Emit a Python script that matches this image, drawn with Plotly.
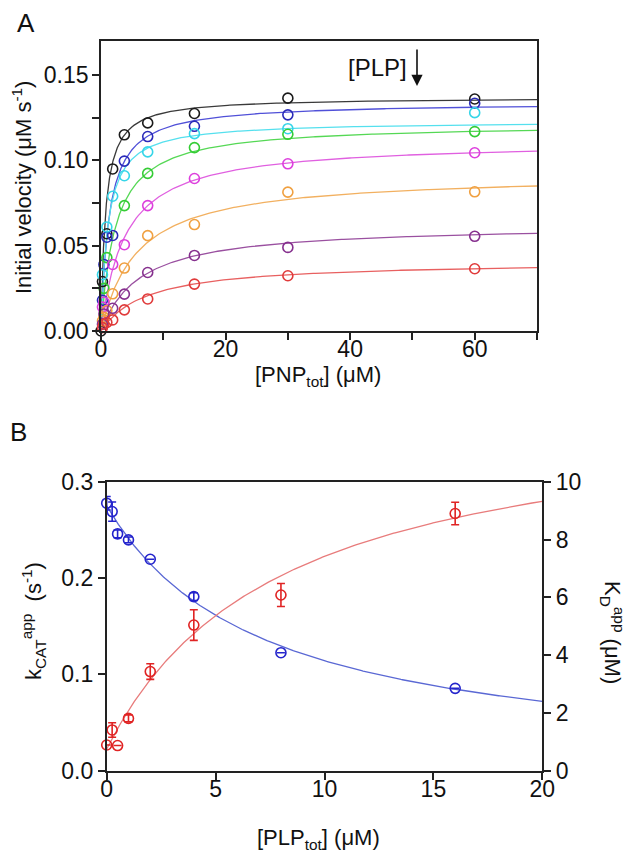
import numpy as np
import plotly.graph_objects as go

# ---------------- Panel A data ----------------
PNP_X = [0, 0.234, 0.469, 0.9375, 1.875, 3.75, 7.5, 15, 30, 60]
V_BLACK   = [0.000, 0.029, None, 0.057, 0.095, 0.115, 0.122, 0.1275, 0.1365, 0.136]
V_NAVY    = [None, 0.018, 0.039, 0.055, 0.056, 0.0996, 0.114, 0.120, 0.1267, 0.1335]
V_CYAN    = [None, 0.033, None, 0.061, 0.079, 0.091, 0.105, 0.1157, 0.1186, 0.128]
V_GREEN   = [None, None, 0.025, 0.043, None, 0.0735, 0.0924, 0.1075, 0.1153, 0.1169]
V_MAGENTA = [None, 0.014, 0.017, None, 0.039, 0.0506, 0.0735, 0.0894, 0.098, 0.1045]
V_ORANGE  = [None, 0.006, 0.008, 0.012, 0.0218, 0.0369, 0.0559, 0.0624, 0.0814, 0.0816]
V_PURPLE  = [None, 0.004, 0.010, None, 0.0133, 0.0216, 0.0343, 0.0443, 0.049, 0.0555]
V_RED     = [None, 0.002, 0.004, 0.005, 0.0065, 0.0124, 0.0188, 0.0275, 0.0324, 0.0365]

SERIES_A = [V_BLACK, V_NAVY, V_CYAN, V_GREEN, V_MAGENTA, V_ORANGE, V_PURPLE, V_RED]
# fitted hyperbola parameters (Vmax, K) for each series
FIT_VMAX = [0.137, 0.134, 0.123, 0.1215, 0.1112, 0.092, 0.0624, 0.041]
FIT_K    = [0.72, 1.3, 1.1, 2.3, 3.85, 5.76, 6.27, 7.3]
MARKER_COLORS_A = ["#1a1a1a", "#2a2ab8", "#35d5e8", "#35cc35", "#dd3fdd", "#f0a040", "#86308e", "#e03a3a"]
LINE_COLORS_A   = ["#3a3a3a", "#5050d8", "#55e0ee", "#55d855", "#e060e0", "#f2b060", "#9a50a0", "#e86060"]

# ---------------- Panel B data ----------------
PLP_X = [0, 0.25, 0.5, 1, 2, 4, 8, 16]
KCAT = [0.2777, 0.269, 0.2458, 0.2396, 0.2195, 0.1807, 0.1225, 0.0855]
KCAT_ERR = [0.007, 0.010, 0.004, 0.003, 0.0, 0.004, 0.0, 0.0]
KD = [0.89, 1.41, 0.87, 1.81, 3.43, 5.04, 6.08, 8.9]
KD_ERR = [0.0, 0.25, 0.0, 0.12, 0.27, 0.53, 0.40, 0.39]
KCAT_FIT = (0.275, 7.1)          # k0, K  : k0/(1+x/K)
KD_FIT = (0.75, 12.0, 8.0)       # c, A, K : c + A x/(K+x)

FONT = "Liberation Sans, Arial, sans-serif"
# page is 633x854; the html body has an 8 px margin, so the figure is offset by 8 px
OFF = 8
W, H = 633 - OFF, 854 - OFF


def px(p):
    return (p - OFF) / W


def py(p):
    return 1 - (p - OFF) / H


fig = go.Figure()

xc = np.concatenate([np.linspace(0, 5, 200), np.linspace(5, 70, 200)])
for vm, k, lc in zip(FIT_VMAX, FIT_K, LINE_COLORS_A):
    fig.add_trace(go.Scatter(x=xc, y=vm * xc / (k + xc), mode="lines",
                             line=dict(color=lc, width=1.3), xaxis="x", yaxis="y",
                             showlegend=False, hoverinfo="skip"))
for vals, mc in zip(SERIES_A, MARKER_COLORS_A):
    fig.add_trace(go.Scatter(x=PNP_X, y=vals, mode="markers",
                             marker=dict(symbol="circle-open", size=10, color=mc, line=dict(width=1.6, color=mc)),
                             xaxis="x", yaxis="y", showlegend=False, cliponaxis=False))

# Panel B
xb = np.linspace(0, 20, 300)
k0, kk = KCAT_FIT
fig.add_trace(go.Scatter(x=xb, y=k0 / (1 + xb / kk), mode="lines", line=dict(color="#5a68d4", width=1.3),
                         xaxis="x2", yaxis="y2", showlegend=False))
c, a, kd = KD_FIT
fig.add_trace(go.Scatter(x=xb, y=c + a * xb / (kd + xb), mode="lines", line=dict(color="#e87c7c", width=1.3),
                         xaxis="x2", yaxis="y3", showlegend=False))
fig.add_trace(go.Scatter(x=PLP_X, y=KCAT, mode="markers",
                         marker=dict(symbol="circle-open", size=10, color="#2424cc", line=dict(width=1.6, color="#2424cc")),
                         error_y=dict(type="data", array=KCAT_ERR, color="#2424cc", thickness=1.6, width=4),
                         xaxis="x2", yaxis="y2", showlegend=False, cliponaxis=False))
fig.add_trace(go.Scatter(x=PLP_X, y=KD, mode="markers",
                         marker=dict(symbol="circle-open", size=10, color="#e02424", line=dict(width=1.6, color="#e02424")),
                         error_y=dict(type="data", array=KD_ERR, color="#e02424", thickness=1.6, width=4),
                         xaxis="x2", yaxis="y3", showlegend=False, cliponaxis=False))

ax_common = dict(showgrid=False, zeroline=False, showline=True, linecolor="#222", linewidth=1.6,
                 ticks="outside", ticklen=7, tickwidth=1.6, tickcolor="#222",
                 tickfont=dict(family=FONT, size=23, color="#111"), automargin=False)
minor_common = dict(ticks="outside", ticklen=7, tickwidth=1.6, tickcolor="#222")

fig.update_layout(
    width=W, height=H, margin=dict(l=0, r=0, t=0, b=0),
    paper_bgcolor="white", plot_bgcolor="white",
    xaxis=dict(domain=[px(101), px(537)], range=[0, 70], anchor="y", mirror=True,
               tickvals=[0, 20, 40, 60], minor=dict(dtick=10, **minor_common),
               ticklabelstandoff=-10, **ax_common),
    yaxis=dict(domain=[py(331), py(41)], range=[0, 0.17], anchor="x", mirror=True,
               tickvals=[0, 0.05, 0.10, 0.15], tickformat=".2f",
               minor=dict(dtick=0.025, **minor_common), ticklabelstandoff=-1, **ax_common),
    xaxis2=dict(domain=[px(106.7), px(542.3)], range=[0, 20], anchor="y2", mirror=True,
                tickvals=[0, 5, 10, 15, 20], ticklabelstandoff=-10, **ax_common),
    yaxis2=dict(domain=[py(770.7), py(481.7)], range=[0, 0.3], anchor="x2",
                tickvals=[0, 0.1, 0.2, 0.3], tickformat=".1f", **ax_common),
    yaxis3=dict(range=[0, 10], overlaying="y2", side="right", anchor="x2",
                tickvals=[0, 2, 4, 6, 8, 10], **ax_common),
)


def ann(text, x, y, size=22, angle=0):
    fig.add_annotation(text=text, x=px(x), y=py(y), xref="paper", yref="paper",
                       showarrow=False, textangle=angle, xanchor="center", yanchor="middle",
                       font=dict(family=FONT, size=size, color="#111"))


ann("A", 26, 23, size=26)
ann("B", 18, 432, size=26)
ann("Initial velocity (μM s<sup>-1</sup>)", 22, 188, angle=-90)
ann("[PNP<sub>tot</sub>] (μM)", 318, 376)
ann("[PLP]", 377, 68, size=24)
ann("k<sub>CAT</sub><sup>app</sup>  (s<sup>-1</sup>)", 33, 621, angle=-90)
ann("[PLP<sub>tot</sub>] (μM)", 318, 839)
ann("K<sub>D</sub><sup>app</sup> (μM)", 613, 632, angle=90)

# arrow below [PLP]
fig.add_annotation(text="", x=px(417), y=py(86), xref="paper", yref="paper",
                   ax=0, ay=-38, showarrow=True, arrowhead=2, arrowsize=1.4, arrowwidth=1.6,
                   arrowcolor="#111", standoff=0)

fig.write_html("out.html")
